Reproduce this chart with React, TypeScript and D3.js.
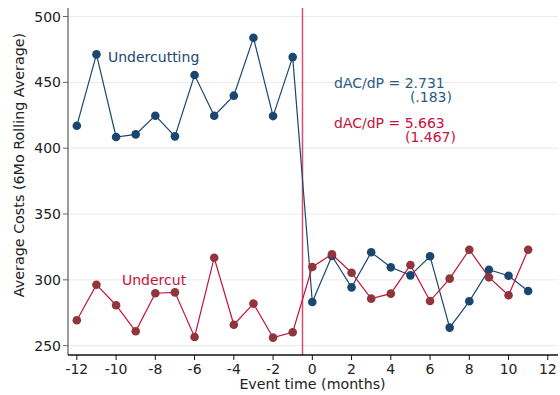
import React from "react";
import * as d3 from "d3";

const months = [-12,-11,-10,-9,-8,-7,-6,-5,-4,-3,-2,-1,0,1,2,3,4,5,6,7,8,9,10,11];
const undercutting = [417.1,471.3,408.5,410.5,424.7,409,455.6,424.7,439.9,483.9,424.4,469.2,283.2,318.1,294.3,320.9,309.5,303.4,317.9,263.7,283.7,307.7,303.1,291.5];
const undercut = [269.3,296.3,280.7,260.9,289.8,290.5,256.6,316.8,265.9,281.9,256.1,260.2,309.8,319.4,305.4,285.7,289.5,311.3,283.9,300.9,322.9,301.9,288.3,322.9];
const xTicks = [-12,-10,-8,-6,-4,-2,0,2,4,6,8,10,12];
const yTicks = [250,300,350,400,450,500];
const eventLine = -0.5;

const W = 560, H = 395;
const left = 68, right = 558, top = 8, bottom = 355;
const BLUE = "#1a476f";
const RED_LINE = "#c8103e";
const RED_MARK = "#90353b";
const FONT = "DejaVu Sans, sans-serif";

export default function App() {
  const x = d3.scaleLinear().domain([-12.45, 12.52]).range([left, right]);
  const y = d3.scaleLinear().domain([242.9, 506.5]).range([bottom, top]);
  const line = d3.line<number>().x((_, i) => x(months[i])).y((d) => y(d));
  return (
    <svg width={W} height={H} style={{ position: "absolute", left: 0, top: 0, fontFamily: FONT }}>
      <rect width={W} height={H} fill="#fff" />
      {yTicks.map((t) => (
        <line key={t} x1={left} x2={right} y1={y(t)} y2={y(t)} stroke="#eaeaea" strokeWidth={1} />
      ))}
      <line x1={x(eventLine)} x2={x(eventLine)} y1={top} y2={bottom} stroke="#d4506b" strokeWidth={1.5} />
      <path d={line(undercutting) || ""} fill="none" stroke={BLUE} strokeWidth={1.2} />
      <path d={line(undercut) || ""} fill="none" stroke={RED_LINE} strokeWidth={1.2} />
      {undercutting.map((v, i) => (
        <circle key={"b" + i} cx={x(months[i])} cy={y(v)} r={4.3} fill={BLUE} />
      ))}
      {undercut.map((v, i) => (
        <circle key={"r" + i} cx={x(months[i])} cy={y(v)} r={4.3} fill={RED_MARK} />
      ))}
      {/* axes */}
      <line x1={left} x2={left} y1={top} y2={bottom} stroke="#666" strokeWidth={1.3} />
      {yTicks.map((t) => (
        <g key={"yt" + t}>
          <line x1={left - 5} x2={left} y1={y(t)} y2={y(t)} stroke="#666" strokeWidth={1} />
          <text x={left - 7} y={y(t)} dy="0.36em" textAnchor="end" fontSize={14} fill="#222">{t}</text>
        </g>
      ))}
      <line x1={left} x2={right} y1={bottom} y2={bottom} stroke="#111" strokeWidth={1.3} />
      {xTicks.map((t) => (
        <g key={"xt" + t}>
          <line x1={x(t)} x2={x(t)} y1={bottom} y2={bottom + 5} stroke="#111" strokeWidth={1} />
          <text x={x(t)} y={bottom + 19} textAnchor="middle" fontSize={14} fill="#222">{t}</text>
        </g>
      ))}
      <text x={312.5} y={389} textAnchor="middle" fontSize={14.2} fill="#222">Event time (months)</text>
      <text transform={`translate(24, ${165}) rotate(-90)`} textAnchor="middle" fontSize={14.3} fill="#222">Average Costs (6Mo Rolling Average)</text>
      <text x={108} y={62} fontSize={14} fill={BLUE}>Undercutting</text>
      <text x={122} y={285} fontSize={14} fill={RED_LINE}>Undercut</text>
      <text x={334} y={88} fontSize={14} fill="#2a5a85">dAC/dP = 2.731</text>
      <text x={452} y={102} textAnchor="end" fontSize={14} fill="#2a5a85">(.183)</text>
      <text x={334} y={128} fontSize={14} fill={RED_LINE}>dAC/dP = 5.663</text>
      <text x={456} y={142} textAnchor="end" fontSize={14} fill={RED_LINE}>(1.467)</text>
    </svg>
  );
}
